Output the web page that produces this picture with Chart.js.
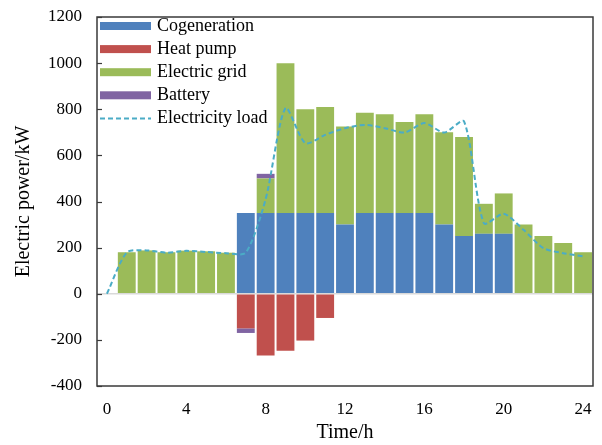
<!DOCTYPE html>
<html>
<head>
<meta charset="utf-8">
<script src="https://cdn.jsdelivr.net/npm/chart.js@4.4.1/dist/chart.umd.min.js"></script>
<style>
  html, body { margin: 0; padding: 0; background: #ffffff; }
  #c { display: block; }
</style>
</head>
<body>
<canvas id="c" width="602" height="445"></canvas>
<script>
// Hour of day (category axis), 0..24
const hours = ['0','1','2','3','4','5','6','7','8','9','10','11','12',
               '13','14','15','16','17','18','19','20','21','22','23','24'];

// Electric power supply by source, kW (negative = consumption)
const cogeneration = [null, null, null, null, null, null, null,
                      350, 350, 350, 350, 350, 300, 350, 350, 350, 350, 300, 250, 260, 260,
                      null, null, null, null];
const heatPump     = [null, null, null, null, null, null, null,
                      -150, -268, -247, -203, -105,
                      null, null, null, null, null, null, null, null, null, null, null, null, null];
const electricGrid = [null, 180, 188, 180, 187, 184, 178,
                      null, 150, 650, 450, 460, 425, 435, 428, 395, 428, 400, 430, 130, 175,
                      300, 250, 220, 180];
const battery      = [null, null, null, null, null, null, null,
                      -20, 20,
                      null, null, null, null, null, null, null, null, null, null, null, null, null, null, null, null];

// Electricity demand, kW
const electricityLoad = [0, 179, 188, 178, 186, 181, 176, 178, 410, 805, 653, 689, 718,
                         732, 718, 699, 740, 699, 747, 306, 347, 277, 198, 176, 162];

// Axis ticks
const yMin = -400, yMax = 1200, yStep = 200;
const xTickEvery = 4;

const serif = "'Liberation Serif', 'Times New Roman', Times, serif";

// Plot frame plus inward tick marks on the value axis
const framePlugin = {
  id: 'frame',
  afterDraw(chart) {
    const { ctx, chartArea: a, scales: { y } } = chart;
    ctx.save();
    ctx.strokeStyle = '#3a3a3a';
    ctx.lineWidth = 1.5;
    ctx.strokeRect(a.left, a.top, a.right - a.left, a.bottom - a.top);
    ctx.lineWidth = 1.2;
    y.ticks.forEach(t => {
      const py = Math.round(y.getPixelForValue(t.value)) + 0.5;
      ctx.beginPath();
      ctx.moveTo(a.left, py);
      ctx.lineTo(a.left + 5, py);
      ctx.stroke();
    });
    ctx.restore();
  }
};

// Legend drawn inside the top-left corner of the plot area
const insideLegend = {
  id: 'insideLegend',
  afterDraw(chart) {
    const { ctx, chartArea: a } = chart;
    const x0 = a.left + 3, y0 = a.top + 9, rowH = 23.1, sw = 51;
    ctx.save();
    ctx.font = '18px ' + serif;
    ctx.textBaseline = 'middle';
    ctx.fillStyle = '#000';
    chart.data.datasets.forEach((ds, i) => {
      const cy = y0 + i * rowH;
      if (ds.type === 'line') {
        ctx.strokeStyle = ds.borderColor;
        ctx.lineWidth = ds.borderWidth;
        ctx.setLineDash(ds.borderDash);
        ctx.beginPath();
        ctx.moveTo(x0, cy);
        ctx.lineTo(x0 + sw, cy);
        ctx.stroke();
        ctx.setLineDash([]);
      } else {
        ctx.fillStyle = ds.backgroundColor;
        ctx.fillRect(x0, cy - 4, sw, 8);
      }
      ctx.fillStyle = '#000';
      ctx.fillText(ds.label, x0 + sw + 6, cy);
    });
    ctx.restore();
  }
};

const barCommon = { stack: 'power', order: 1, categoryPercentage: 1.0, barPercentage: 0.9, borderWidth: 0 };

new Chart(document.getElementById('c'), {
  type: 'bar',
  data: {
    labels: hours,
    datasets: [
      Object.assign({ label: 'Cogeneration',  data: cogeneration, backgroundColor: '#4F81BD' }, barCommon),
      Object.assign({ label: 'Heat pump',     data: heatPump,     backgroundColor: '#C0504D' }, barCommon),
      Object.assign({ label: 'Electric grid', data: electricGrid, backgroundColor: '#9BBB59' }, barCommon),
      Object.assign({ label: 'Battery',       data: battery,      backgroundColor: '#8064A2' }, barCommon),
      {
        type: 'line',
        label: 'Electricity load',
        data: electricityLoad,
        stack: 'load',
        order: 0,
        borderColor: '#4BACC6',
        borderWidth: 2,
        borderDash: [5, 3],
        pointRadius: 0,
        tension: 0.25,
        fill: false
      }
    ]
  },
  options: {
    responsive: false,
    devicePixelRatio: 1,
    animation: false,
    layout: { padding: { top: 17, right: 9, left: 0, bottom: 0 } },
    plugins: { legend: { display: false }, tooltip: { enabled: false } },
    scales: {
      x: {
        stacked: true,
        offset: true,
        grid: { display: false },
        border: { display: false },
        ticks: {
          autoSkip: false,
          maxRotation: 0,
          padding: 5,
          color: '#000',
          font: { family: serif, size: 17 },
          callback: (v, i) => (i % xTickEvery === 0 ? hours[i] : '')
        },
        title: {
          display: true,
          text: 'Time/h',
          color: '#000',
          font: { family: serif, size: 20 },
          padding: { top: 0, bottom: 0 }
        },
        afterFit: s => { s.height = 59; s.paddingLeft = 0; s.paddingRight = 0; }
      },
      y: {
        stacked: true,
        min: yMin,
        max: yMax,
        grid: {
          drawTicks: false,
          lineWidth: 1.5,
          color: c => (c.tick && c.tick.value === 0 ? '#d9d9d9' : 'rgba(0,0,0,0)')
        },
        border: { display: false },
        ticks: {
          stepSize: yStep,
          padding: 15,
          color: '#000',
          font: { family: serif, size: 17 },
          callback: v => String(v)
        },
        title: {
          display: true,
          text: 'Electric power/kW',
          color: '#000',
          font: { family: serif, size: 20 },
          padding: { top: 12, bottom: 0 }
        },
        afterFit: s => { s.width = 97; s.paddingTop = 0; s.paddingBottom = 0; }
      }
    }
  },
  plugins: [framePlugin, insideLegend]
});
</script>
</body>
</html>
